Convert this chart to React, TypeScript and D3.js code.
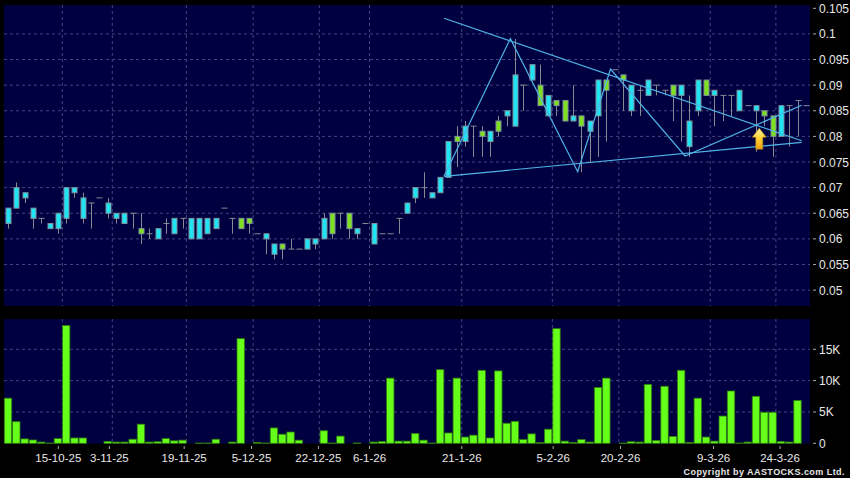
import React from "react";
import * as d3 from "d3";

// Prices in thousandths
const opens = [63,66,68,64,64,62,62,64,69,64,67,68,65,64,63,65,62,61,60,63,61,64,60,60,61,62,66,64,64,64,61,60,57,59,58,58,58,59,60,65,65,65,61,63,59,61,61,64,65,68,70,68,69,72,80,79,82,81,79,83,84,82,90,91,90,84,87,87,83,84,81,84,91,93,92,85,89,88,90,89,90,88,78,85,91,88,88,88,85,86,85,85,84,80,86,87,86];
const closes = [66,70,69,66,64,63,65,70,70,68,67,68,67,65,65,65,61,61,62,63,64,64,64,64,64,64,66,64,62,63,61,61,59,58,58,58,60,60,64,61,65,62,62,63,63,61,61,64,67,70,70,69,72,79,79,82,82,80,81,81,85,92,90,94,86,88,86,83,84,82,83,91,89,93,91,90,89,91,90,89,88,90,83,91,88,89,88,88,89,86,86,84,80,86,86,87,86];
const highs = [66,71,69,66,64,63,65,70,70,69,67,68,68,65,65,65,65,62,62,64,64,64,64,64,64,64,66,64,64,64,61,61,59,59,60,58,60,60,65,65,65,65,62,63,63,61,61,64,67,70,73,69,72,79,82,83,82,82,81,84,85,99,90,94,94,88,87,87,90,84,83,91,91,93,92,90,90,91,90,89,90,90,88,91,91,89,88,88,89,86,86,85,84,86,86,87,86];
const lows = [62,66,67,62,63,62,61,63,68,63,62,68,64,63,63,62,59,60,60,61,61,62,60,60,61,62,66,61,62,61,61,57,56,56,58,58,58,58,60,60,62,60,60,63,59,61,61,61,65,67,68,68,69,72,74,78,76,76,76,80,82,82,85,91,86,84,84,83,83,73,75,76,79,93,85,84,84,88,88,88,83,79,76,84,88,82,83,84,85,86,77,82,76,80,78,80,86];
const volumesK = [7.2,3.45,0.7,0.53,0.2,0.05,0.75,18.8,0.85,0.85,0,0,0.3,0.2,0.2,0.65,3.05,0.2,0.25,0.75,0.4,0.5,0,0.05,0.05,0.65,0,0.2,16.7,0,0.15,0.05,2.45,1.45,1.8,0.5,0,0,2.0,0.05,1.15,0,0.05,0,0.2,0.3,10.4,0.35,0.35,1.55,0.5,0.05,11.75,1.65,10.4,1.0,1.3,11.65,0.85,11.55,3.2,3.5,0.6,1.5,0.1,2.25,18.3,0.35,0.15,0.6,0.2,8.9,10.4,0,0.05,0.25,0.2,9.4,0.45,9.1,1.1,11.65,0.15,7.2,1.0,0.35,4.35,8.35,0.05,0.2,7.5,4.95,4.95,0.3,0.2,6.85];

const priceTicks = [105,100,95,90,85,80,75,70,65,60,55,50];
const priceLabels = ["0.105","0.1","0.095","0.09","0.085","0.08","0.075","0.07","0.065","0.06","0.055","0.05"];
const volumeTicks = [0,5,10,15];
const volumeLabels = ["0","5K","10K","15K"];
const dateLabels = ["15-10-25","3-11-25","19-11-25","5-12-25","22-12-25","6-1-26","21-1-26","5-2-26","20-2-26","9-3-26","24-3-26"];
const dateTickIdx = [6.05,12.2,21.2,29.3,37.35,43.5,54.6,65.6,73.7,84.9,92.9];
const dateGridIdx = [6.54,12.55,21.46,29.5,37.46,43.5,54.6,65.5,73.5,84.5,92.4];

// Hand-drawn trend lines as [bar index, price]
const trendTop: [number, number][] = [[52.47,103.05],[95.5,79.16]];
const trendBottom: [number, number][] = [[52.47,72.2],[95.5,78.85]];
const zigzag: [number, number][] = [[52.47,72.2],[60.45,99.07],[68.55,73.1],[72.5,93.15],[81.47,76.18],[95.5,86.07]];
const arrowAt: [number, number] = [90.4, 81.6];

const W = 850, H = 478;
const NAVY = "#000040", GRID = "#44447f", LINE = "#4fb4e6";

const x = d3.scaleLinear().domain([0, 95]).range([8, 797.5]);
const y = d3.scaleLinear().domain([50, 105]).range([290.1, 8.3]);
const yV = d3.scaleLinear().domain([0, 15]).range([443.3, 349.3]);
const trend = d3.line<[number, number]>().x(d => x(d[0])).y(d => y(d[1]));

const L = 4, R = 810, T1 = 5, B1 = 306, T2 = 319, B2 = 443.5;
const BODY_W = 5;
const VOL_W = 7.4;

export default function App() {
  const [ax, ap] = arrowAt;
  const ac = x(ax), at = y(ap);
  const arrow = `M${ac},${at} L${ac + 7},${at + 9} L${ac + 3.5},${at + 9} L${ac + 3.5},${at + 21} L${ac - 3.5},${at + 21} L${ac - 3.5},${at + 9} L${ac - 7},${at + 9} Z`;
  return (
    <svg width={W} height={H} viewBox={`0 0 ${W} ${H}`}
      style={{ position: "absolute", left: 0, top: 0, background: "#000", display: "block" }}
      fontFamily="'Liberation Sans', Arial, sans-serif">
      <defs>
        <linearGradient id="arrowFill" x1="0" y1="0" x2="0" y2="1">
          <stop offset="0" stopColor="#fff2a0" />
          <stop offset="0.5" stopColor="#ffd030" />
          <stop offset="1" stopColor="#f0a010" />
        </linearGradient>
      </defs>
      <rect x={L} y={T1} width={R - L} height={B1 - T1} fill={NAVY} />
      <rect x={L} y={T2} width={R - L} height={B2 - T2} fill={NAVY} />

      {priceTicks.map((p, i) => (
        <g key={p}>
          {i > 0 && <line x1={L} x2={R} y1={y(p)} y2={y(p)} stroke={GRID} strokeDasharray="3 3" />}
          <line x1={R + 3} x2={R + 6} y1={y(p)} y2={y(p)} stroke="#aaa" />
          <text x={819} y={y(p) + 4.5} fill="#e8e8e8" fontSize={12}>{priceLabels[i]}</text>
        </g>
      ))}
      {volumeTicks.map((v, i) => (
        <g key={v}>
          {i > 0 && <line x1={L} x2={R} y1={yV(v)} y2={yV(v)} stroke={GRID} strokeDasharray="3 3" />}
          <line x1={R + 3} x2={R + 6} y1={yV(v)} y2={yV(v)} stroke="#aaa" />
          <text x={819} y={yV(v) + 4.5} fill="#e8e8e8" fontSize={12}>{volumeLabels[i]}</text>
        </g>
      ))}
      {dateGridIdx.map((d, i) => (
        <g key={i}>
          <line x1={x(d)} x2={x(d)} y1={T1} y2={B1} stroke={GRID} strokeDasharray="3 3" />
          <line x1={x(d)} x2={x(d)} y1={T2} y2={B2} stroke={GRID} strokeDasharray="3 3" />
        </g>
      ))}
      {dateLabels.map((d, i) => (
        <g key={d}>
          <line x1={x(dateTickIdx[i])} x2={x(dateTickIdx[i])} y1={446} y2={449} stroke="#aaa" />
          <text x={x(dateTickIdx[i])} y={462} textAnchor="middle" fill="#e8e8e8" fontSize={11.5}>{d}</text>
        </g>
      ))}

      {volumesK.map((v, i) => v > 0 && (
        <rect key={i} x={x(i) - VOL_W / 2} y={yV(v)} width={VOL_W} height={yV(0) - yV(v)}
          fill="#66ff1a" stroke="#2f7a10" strokeWidth={0.8} />
      ))}

      {opens.map((o, i) => {
        const c = closes[i];
        const cx = Math.round(x(i)) + 0.5;
        const top = y(Math.max(o, c)), bot = y(Math.min(o, c));
        return (
          <g key={i}>
            <line x1={cx} x2={cx} y1={y(highs[i])} y2={y(lows[i])} stroke="#888892" />
            {o === c
              ? <line x1={cx - 3} x2={cx + 3} y1={top} y2={top} stroke="#888892" />
              : <rect x={cx - BODY_W / 2} y={top} width={BODY_W} height={bot - top}
                  fill={c > o ? "#20e4f4" : "#7fe020"} stroke="#7c909c" strokeWidth={1} />}
          </g>
        );
      })}

      <path d={trend(trendTop) ?? ""} fill="none" stroke={LINE} strokeWidth={1.2} />
      <path d={trend(trendBottom) ?? ""} fill="none" stroke={LINE} strokeWidth={1.2} />
      <path d={trend(zigzag) ?? ""} fill="none" stroke={LINE} strokeWidth={1.2} />
      <path d={arrow} fill="url(#arrowFill)" stroke="#b08020" strokeWidth={0.6} />

      <text x={845} y={475} textAnchor="end" fill="#e8e8e8" fontSize={9} fontWeight="bold" letterSpacing={0.45}>Copyright by AASTOCKS.com Ltd.</text>
    </svg>
  );
}
